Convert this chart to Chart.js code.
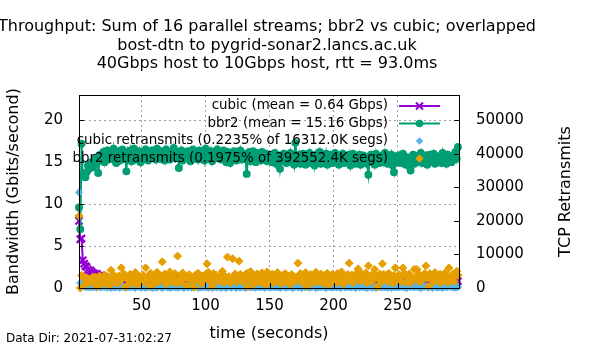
<!DOCTYPE html>
<html><head><meta charset="utf-8">
<script src="https://cdn.jsdelivr.net/npm/chart.js@4/dist/chart.umd.min.js"></script>
<style>html,body{margin:0;padding:0;background:#fff;}#wrap{width:600px;height:350px;}</style>
</head><body>
<div id="wrap"><canvas id="c" width="600" height="350"></canvas></div>
<script>
const titleLines = [
  'Throughput: Sum of 16 parallel streams; bbr2 vs cubic; overlapped',
  'bost-dtn to pygrid-sonar2.lancs.ac.uk',
  '40Gbps host to 10Gbps host, rtt = 93.0ms'
];
const xTitle = 'time (seconds)';
const yTitle = 'Bandwidth (Gbits/second)';
const y2Title = 'TCP Retransmits';
const footNote = 'Data Dir: 2021-07-31:02:27';
const legendLabels = [
  'cubic (mean = 0.64 Gbps)',
  'bbr2 (mean = 15.16 Gbps)',
  'cubic retransmits (0.2235% of 16312.0K segs)',
  'bbr2 retransmits (0.1975% of 392552.4K segs)'
];
const xTicks = [50, 100, 150, 200, 250];
const yTicks = [0, 5, 10, 15, 20];
const y2Ticks = [0, 10000, 20000, 30000, 40000, 50000];

// one sample per second, starting at t = 1.2 s
const times = [];
for (let i = 0; i < 297; i++) times.push(Math.round((1.2 + i) * 10) / 10);

const cubicGbps = [
  8.0, 5.8, 5.9, 3.3, 2.9, 2.6, 2.5, 2.2, 2.0, 2.1,
  1.9, 1.8, 1.7, 1.6, 1.7, 1.5, 1.4, 1.5, 1.3, 1.4,
  1.3, 1.2, 1.1, 1.2, 1.0, 0.9, 1.0, 0.8, 0.9, 0.7,
  0.6, 0.9, 0.4, 0.7, 0.5, 1.0, 0.3, 0.6, 0.8, 0.4,
  0.7, 0.5, 0.9, 0.3, 0.6, 0.8, 0.4, 1.0, 0.5, 0.7,
  0.3, 0.6, 0.9, 0.5, 0.4, 0.8, 0.6, 0.3, 0.7, 1.1,
  0.5, 0.8, 0.4, 0.6, 0.9, 1.2, 0.5, 0.7, 0.3, 0.6,
  0.8, 0.4, 0.7, 0.5, 1.0, 0.3, 0.6, 0.8, 0.5, 0.4,
  0.7, 0.9, 0.3, 0.6, 0.5, 0.8, 0.4, 0.7, 1.0, 0.5,
  0.3, 0.6, 0.8, 0.4, 0.7, 0.5, 0.9, 0.3, 0.6, 1.1,
  0.5, 0.7, 0.4, 0.8, 0.6, 0.3, 0.9, 0.5, 0.7, 0.4,
  0.6, 0.8, 0.3, 0.7, 1.0, 0.5, 0.4, 0.8, 0.6, 1.1,
  0.5, 0.7, 0.9, 0.4, 0.6, 1.0, 0.3, 0.7, 0.5, 0.8,
  0.4, 0.6, 0.9, 0.3, 0.7, 0.5, 0.8, 0.4, 0.6, 0.3,
  0.7, 0.5, 0.4, 0.8, 0.6, 0.3, 0.7, 0.5, 0.9, 0.4,
  0.6, 0.3, 0.8, 0.5, 0.7, 0.4, 1.0, 0.6, 0.8, 1.1,
  0.5, 0.9, 0.7, 0.4, 0.6, 0.8, 0.3, 0.5, 0.7, 0.9,
  0.4, 0.6, 1.0, 0.5, 0.3, 0.7, 0.8, 0.4, 0.6, 0.5,
  0.9, 0.3, 0.6, 0.8, 0.5, 0.7, 0.4, 1.1, 0.6, 0.3,
  0.7, 0.5, 0.8, 0.4, 0.6, 0.9, 0.3, 0.7, 0.5, 0.8,
  0.4, 1.0, 0.6, 0.3, 0.7, 0.5, 0.8, 0.6, 0.4, 0.9,
  0.5, 0.7, 0.3, 0.8, 0.6, 0.4, 0.9, 0.5, 1.0, 0.6,
  0.3, 0.7, 0.5, 0.8, 0.4, 0.6, 1.1, 0.5, 0.7, 0.4,
  0.8, 0.6, 0.3, 0.9, 0.5, 0.7, 0.4, 0.6, 0.8, 0.5,
  0.4, 0.7, 1.0, 0.5, 0.3, 0.6, 0.8, 0.4, 0.7, 0.5,
  0.9, 0.4, 0.6, 0.3, 0.7, 0.5, 0.8, 1.0, 0.4, 0.6,
  0.5, 0.8, 0.4, 0.7, 0.3, 0.6, 0.9, 0.5, 0.7, 0.4,
  0.6, 1.0, 0.5, 0.3, 0.8, 0.4, 0.7, 0.6, 0.9, 0.5,
  0.4, 0.7, 0.5, 0.8, 0.3, 0.6, 1.1, 0.5, 0.8, 0.6,
  0.9, 0.5, 0.7, 1.0, 0.6, 1.1, 0.8
];
const bbr2Gbps = [
  9.6, 7.0, 17.2, 13.3, 13.6, 13.2, 13.8, 14.6, 14.2, 14.9,
  15.0, 14.4, 15.3, 14.8, 15.6, 13.7, 15.1, 15.9, 15.4, 16.2,
  15.0, 15.8, 16.4, 15.3, 15.9, 16.1, 15.5, 16.6, 15.2, 14.9,
  15.6, 16.3, 15.2, 16.0, 16.5, 15.4, 15.9, 13.9, 16.2, 15.5,
  16.4, 15.1, 15.8, 16.6, 15.3, 16.0, 15.6, 16.3, 15.0, 15.8,
  16.2, 15.4, 16.5, 15.7, 15.2, 16.1, 15.8, 16.4, 15.5, 16.0,
  15.3, 16.6, 15.7, 16.1, 15.4, 16.3, 15.9, 15.2, 16.5, 15.6,
  16.0, 15.3, 16.2, 15.8, 16.7, 15.5, 15.9, 16.2, 14.3, 15.7,
  16.4, 15.2, 15.9, 16.1, 15.5, 16.3, 15.7, 15.1, 16.0, 16.5,
  15.4, 15.8, 16.2, 15.3, 16.4, 15.9, 15.5, 16.1, 15.2, 16.6,
  15.7, 16.0, 15.4, 16.3, 15.1, 15.8, 16.2, 15.5, 16.5, 15.6,
  16.1, 15.3, 15.9, 16.4, 15.6, 15.0, 16.2, 15.7, 14.9, 16.0,
  15.5, 16.3, 15.8, 15.2, 16.1, 15.6, 16.4, 15.3, 15.9, 16.0,
  15.4, 13.6, 15.7, 16.2, 15.1, 15.8, 16.3, 15.5, 15.0, 16.1,
  15.6, 15.9, 15.2, 16.2, 15.4, 15.8, 16.0, 15.1, 15.7, 15.3,
  15.9, 15.0, 15.6, 16.1, 14.8, 15.4, 15.8, 14.2, 15.5, 15.1,
  16.0, 15.3, 14.9, 15.7, 15.2, 16.1, 15.0, 15.6, 14.7, 17.3,
  15.4, 15.0, 15.9, 14.8, 15.5, 16.0, 15.2, 14.7, 15.8, 15.3,
  16.1, 14.9, 15.4, 15.7, 14.6, 15.9, 15.1, 15.5, 16.2, 14.8,
  15.3, 15.8, 15.0, 16.0, 14.7, 15.4, 15.9, 15.2, 14.9, 15.6,
  16.1, 15.0, 15.5, 14.7, 15.8, 15.3, 16.0, 14.9, 15.4, 15.7,
  15.1, 15.9, 14.6, 15.5, 16.0, 15.2, 14.8, 15.6, 15.3, 15.9,
  14.7, 15.4, 15.8, 15.0, 15.6, 14.8, 13.5, 15.3, 15.9, 15.1,
  15.5, 14.7, 16.0, 15.2, 15.7, 14.9, 15.4, 15.8, 15.0, 16.1,
  15.3, 14.8, 15.6, 15.1, 15.9, 14.6, 13.8, 15.4, 15.7, 15.0,
  15.8, 14.9, 15.3, 16.0, 15.2, 14.7, 15.6, 15.1, 14.5, 14.0,
  15.5, 15.9, 14.8, 15.3, 15.7, 15.0, 15.4, 16.1, 14.9, 15.6,
  15.2, 15.8, 14.7, 15.5, 15.9, 15.1, 15.4, 16.0, 14.8, 15.3,
  15.7, 15.0, 15.6, 14.9, 16.1, 15.2, 15.5, 14.8, 15.9, 15.3,
  15.6, 15.0, 15.8, 15.3, 16.2, 15.4, 16.8
];
const cubicRetrans = [
  28500, 1500, 900, 600, 400, 300, 500, 200, 350, 250,
  450, 200, 600, 300, 100, 500, 350, 150, 650, 400,
  250, 550, 100, 450, 300, 0, 500, 200, 400, 150,
  600, 350, 50, 450, 700, 250, 400, 100, 500, 300,
  150, 550, 350, 200, 0, 450, 650, 250, 400, 100,
  300, 500, 50, 450, 250, 600, 150, 350, 0, 550,
  300, 100, 450, 600, 200, 0, 400, 350, 500, 150,
  350, 0, 550, 250, 450, 200, 650, 100, 400, 300,
  500, 250, 0, 400, 600, 150, 350, 500, 100, 300,
  200, 450, 550, 0, 350, 250, 150, 500, 400, 200,
  650, 100, 300, 450, 0, 550, 250, 400, 150, 600,
  300, 50, 500, 350, 200, 0, 550, 450, 250, 100,
  400, 600, 200, 0, 500, 300, 100, 550, 350, 250,
  0, 450, 300, 600, 150, 400, 250, 500, 50, 450,
  300, 400, 150, 550, 250, 0, 350, 600, 200, 450,
  100, 500, 300, 250, 650, 150, 400, 0, 350, 550,
  250, 400, 100, 500, 300, 600, 200, 0, 450, 350,
  550, 150, 400, 250, 0, 500, 350, 200, 600, 300,
  100, 450, 250, 550, 350, 0, 400, 150, 500, 250,
  350, 600, 200, 0, 450, 300, 550, 100, 400, 250,
  500, 150, 350, 450, 0, 250, 600, 300, 150, 400,
  250, 550, 100, 400, 300, 650, 0, 350, 500, 200,
  450, 250, 600, 150, 350, 0, 500, 300, 400, 100,
  300, 500, 0, 450, 250, 550, 150, 400, 350, 200,
  600, 100, 400, 300, 0, 500, 250, 450, 150, 350,
  200, 450, 350, 550, 100, 300, 0, 500, 400, 250,
  450, 300, 150, 600, 350, 200, 500, 0, 250, 400,
  350, 550, 250, 100, 450, 300, 0, 400, 600, 150,
  150, 400, 250, 550, 0, 300, 450, 200, 350, 500,
  300, 500, 200, 450, 100, 350, 250
];
const bbr2Retrans = [
  21500, 0, 3800, 3500, 2800, 1200, 3000, 1500, 2600, 1800,
  2800, 3300, 1500, 3200, 400, 2400, 3600, 1000, 2900, 2200,
  3900, 1400, 2700, 3100, 800, 5300, 2200, 3900, 1700, 2500,
  1400, 3600, 2100, 6000, 2900, 4300, 300, 3400, 2500, 1200,
  4100, 1700, 3000, 2300, 4600, 900, 2800, 3500, 1500, 2600,
  3800, 2000, 6000, 2400, 3700, 600, 4400, 2600, 3100, 1300,
  3300, 4700, 1900, 2800, 3600, 7800, 2300, 4200, 1100, 3500,
  2700, 4800, 1800, 3200, 2500, 4300, 1400, 9500, 2300, 3800,
  1600, 4500, 2900, 3500, 700, 3000, 4000, 2400, 3100, 1700,
  250, 3900, 2600, 4400, 2000, 3300, 1300, 3600, 2800, 4100,
  7200, 4700, 2100, 3600, 500, 4300, 2800, 3900, 1900, 3200,
  2500, 4000, 5000, 1600, 3500, 2200, 9200, 3400, 1500, 2700,
  8700, 2600, 4200, 1800, 3100, 8000, 4100, 2400, 1800, 3700,
  2300, 4400, 350, 3200, 4900, 2000, 3600, 1200, 2900, 4200,
  2700, 3900, 1600, 4500, 2400, 3300, 900, 4800, 1900, 3500,
  2800, 4100, 1500, 3400, 2600, 4600, 2000, 3000, 1300, 3800,
  2500, 4300, 1700, 3600, 2900, 1100, 4000, 2300, 3400, 2000,
  3200, 7400, 3000, 4300, 1700, 3800, 2500, 4600, 450, 3400,
  2200, 4000, 2900, 1500, 3700, 4700, 2100, 3500, 1800, 4200,
  3100, 1400, 3800, 2600, 4400, 900, 3300, 2000, 4100, 2700,
  3600, 1600, 4300, 2400, 3000, 4800, 1200, 3500, 2800, 1900,
  4000, 7400, 2400, 3900, 1600, 3200, 2700, 4500, 5700, 3300,
  2000, 4200, 2700, 3600, 4500, 1500, 6600, 2900, 3800, 2000,
  3400, 5500, 3600, 300, 2600, 4100, 1800, 7200, 4100, 2500,
  3800, 1900, 4400, 2900, 3300, 1400, 3700, 6000, 3200, 2300,
  4000, 1800, 3500, 6000, 4400, 1700, 3600, 2800, 4200, 1500,
  3100, 2600, 5600, 3300, 5500, 2100, 4000, 1900, 3500, 2700,
  4300, 6600, 3000, 550, 4300, 2600, 3700, 1800, 4600, 2900,
  3400, 2000, 4100, 1600, 3800, 2500, 4500, 3100, 1700, 6000,
  3400, 2200, 4200, 1900, 3600, 5000, 3800
];

const COLORS = ['#9400d3', '#009e73', '#56b4e9', '#e69f00'];
const FONT = '"DejaVu Sans", "Liberation Sans", sans-serif';
const toXY = arr => times.map((t, i) => ({ x: t, y: arr[i] }));

function drawMarker(ctx, style, x, y, r, color) {
  ctx.save();
  ctx.strokeStyle = color; ctx.fillStyle = color;
  ctx.beginPath();
  if (style === 'cross') {
    const d = r * Math.SQRT1_2;
    ctx.lineWidth = 2;
    ctx.moveTo(x - d, y - d); ctx.lineTo(x + d, y + d);
    ctx.moveTo(x - d, y + d); ctx.lineTo(x + d, y - d);
    ctx.stroke();
  } else if (style === 'circle') {
    ctx.arc(x, y, r, 0, Math.PI * 2); ctx.fill();
  } else {
    ctx.moveTo(x, y - r); ctx.lineTo(x + r, y); ctx.lineTo(x, y + r); ctx.lineTo(x - r, y);
    ctx.closePath(); ctx.fill();
  }
  ctx.restore();
}

const decor = {
  id: 'decor',
  afterDraw(chart) {
    const ctx = chart.ctx, a = chart.chartArea;
    const xs = chart.scales.x, ys = chart.scales.y, y2s = chart.scales.y2;
    ctx.save();
    ctx.strokeStyle = '#000'; ctx.lineWidth = 1;
    ctx.beginPath();
    xTicks.forEach(v => { const px = Math.round(xs.getPixelForValue(v)) + 0.5; ctx.moveTo(px, a.bottom); ctx.lineTo(px, a.bottom - 5); });
    yTicks.forEach(v => { const py = Math.round(ys.getPixelForValue(v)) + 0.5; ctx.moveTo(a.left, py); ctx.lineTo(a.left + 5, py); });
    y2Ticks.forEach(v => { const py = Math.round(y2s.getPixelForValue(v)) + 0.5; ctx.moveTo(a.right, py); ctx.lineTo(a.right - 5, py); });
    ctx.stroke();
    ctx.strokeRect(a.left + 0.5, a.top + 0.5, a.right - a.left, a.bottom - a.top);

    const rows = [106, 123.5, 141, 158.5];
    ctx.font = '13.4px ' + FONT;
    ctx.fillStyle = '#000'; ctx.textAlign = 'right'; ctx.textBaseline = 'middle';
    legendLabels.forEach((lbl, i) => ctx.fillText(lbl, 388, rows[i]));
    [0, 1].forEach(i => {
      ctx.strokeStyle = COLORS[i]; ctx.lineWidth = 2;
      ctx.beginPath(); ctx.moveTo(399, rows[i]); ctx.lineTo(440, rows[i]); ctx.stroke();
    });
    drawMarker(ctx, 'cross', 419.5, rows[0], 5, COLORS[0]);
    drawMarker(ctx, 'circle', 419.5, rows[1], 3.8, COLORS[1]);
    drawMarker(ctx, 'diamond', 419.5, rows[2], 3.8, COLORS[2]);
    drawMarker(ctx, 'diamond', 419.5, rows[3], 4.2, COLORS[3]);

    ctx.fillStyle = '#000'; ctx.textAlign = 'center'; ctx.textBaseline = 'middle';
    ctx.font = '16px ' + FONT;
    const cx = (a.left + a.right) / 2;
    [27, 46, 64].forEach((y, i) => ctx.fillText(titleLines[i], cx - 2, y));
    ctx.fillText(xTitle, cx, 334);
    ctx.save(); ctx.translate(14, (a.top + a.bottom) / 2); ctx.rotate(-Math.PI / 2); ctx.fillText(yTitle, 0, 0); ctx.restore();
    ctx.save(); ctx.translate(566, (a.top + a.bottom) / 2); ctx.rotate(-Math.PI / 2); ctx.fillText(y2Title, 0, 0); ctx.restore();
    ctx.font = '12px ' + FONT; ctx.textAlign = 'left';
    ctx.fillText(footNote, 6, 339);
    ctx.restore();
  }
};

new Chart(document.getElementById('c'), {
  type: 'line',
  data: {
    datasets: [
      { label: legendLabels[0], data: toXY(cubicGbps), yAxisID: 'y', order: 4, clip: false,
        borderColor: COLORS[0], backgroundColor: COLORS[0], borderWidth: 2,
        pointStyle: 'crossRot', pointRadius: 5, pointBorderWidth: 2.2,
        pointBorderColor: COLORS[0], pointBackgroundColor: COLORS[0], tension: 0 },
      { label: legendLabels[1], data: toXY(bbr2Gbps), yAxisID: 'y', order: 3, clip: false,
        borderColor: COLORS[1], backgroundColor: COLORS[1], borderWidth: 2,
        pointStyle: 'circle', pointRadius: 3.2, pointBorderWidth: 1.5,
        pointBorderColor: COLORS[1], pointBackgroundColor: COLORS[1], tension: 0 },
      { label: legendLabels[2], data: toXY(cubicRetrans), yAxisID: 'y2', order: 2, clip: false,
        showLine: false, borderColor: COLORS[2], backgroundColor: COLORS[2],
        pointStyle: 'rectRot', pointRadius: 3.6, pointBorderWidth: 1,
        pointBorderColor: COLORS[2], pointBackgroundColor: COLORS[2] },
      { label: legendLabels[3], data: toXY(bbr2Retrans), yAxisID: 'y2', order: 1, clip: false,
        showLine: false, borderColor: COLORS[3], backgroundColor: COLORS[3],
        pointStyle: 'rectRot', pointRadius: 4, pointBorderWidth: 1,
        pointBorderColor: COLORS[3], pointBackgroundColor: COLORS[3] }
    ]
  },
  options: {
    responsive: false, animation: false, devicePixelRatio: 1,
    layout: { padding: { top: 95, left: 0, right: 0, bottom: 0 } },
    plugins: { legend: { display: false }, title: { display: false }, tooltip: { enabled: false } },
    scales: {
      x: {
        type: 'linear', position: 'bottom', min: 1.2, max: 298,
        afterFit: s => { s.height = 62; },
        afterBuildTicks: s => { s.ticks = xTicks.map(v => ({ value: v })); },
        ticks: { font: { family: FONT, size: 15 }, color: '#000', padding: 9, maxRotation: 0, autoSkip: false, callback: v => String(v) },
        grid: { drawTicks: false, color: '#a0a0a0', lineWidth: 1 },
        border: { display: false, dash: [2, 3] }
      },
      y: {
        type: 'linear', position: 'left', min: 0, max: 23,
        afterFit: s => { s.width = 79; },
        afterBuildTicks: s => { s.ticks = yTicks.map(v => ({ value: v })); },
        ticks: { font: { family: FONT, size: 15 }, color: '#000', padding: 16, callback: v => String(v) },
        grid: { drawTicks: false, lineWidth: 1, color: c => (c.tick && c.tick.value === 0) ? 'rgba(0,0,0,0)' : '#a0a0a0' },
        border: { display: false, dash: [2, 3] }
      },
      y2: {
        type: 'linear', position: 'right', min: 0, max: 57500,
        afterFit: s => { s.width = 141; },
        afterBuildTicks: s => { s.ticks = y2Ticks.map(v => ({ value: v })); },
        ticks: { font: { family: FONT, size: 15 }, color: '#000', padding: 17, callback: v => String(v) },
        grid: { display: false, drawTicks: false },
        border: { display: false }
      }
    }
  },
  plugins: [decor]
});
</script>
</body></html>
